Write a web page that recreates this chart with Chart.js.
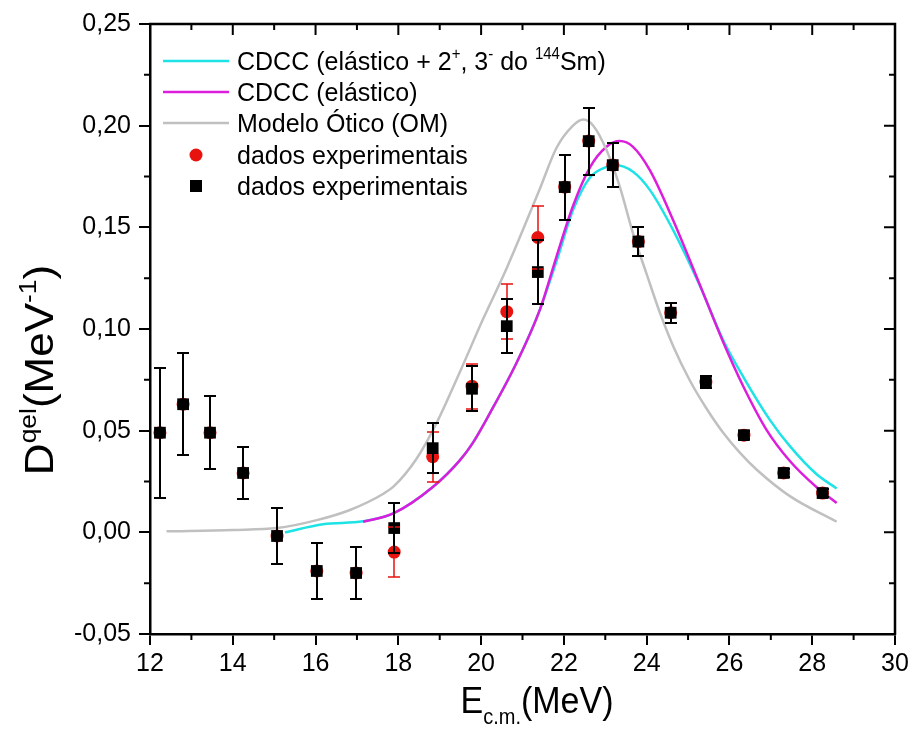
<!DOCTYPE html>
<html>
<head>
<meta charset="utf-8">
<script src="https://cdn.jsdelivr.net/npm/chart.js@4.4.1/dist/chart.umd.min.js"></script>
<style>
    html, body { margin: 0; padding: 0; background: #fff; }
    #wrap { width: 914px; height: 729px; position: relative; }
</style>
</head>
<body>
<div id="wrap"><canvas id="chart"></canvas></div>
<script>
const FONT = '"Liberation Sans", Arial, sans-serif';

// experimental points, E c.m. (MeV)
const expEnergy = [12.24, 12.80, 13.45, 14.25, 15.07, 16.03, 16.98, 17.90, 18.83, 19.78, 20.62, 21.37, 22.02, 22.60, 23.18, 23.80, 24.58, 25.43, 26.35, 27.31, 28.25];
const blackValues = [0.0490, 0.0630, 0.0490, 0.0292, -0.0018, -0.0190, -0.0200, 0.0021, 0.0414, 0.0706, 0.1014, 0.1280, 0.1698, 0.1924, 0.1806, 0.1430, 0.1080, 0.0739, 0.0478, 0.0292, 0.0193];
const blackErrors = [0.0320, 0.0250, 0.0180, 0.0127, 0.0137, 0.0140, 0.0130, 0.0125, 0.0123, 0.0110, 0.0133, 0.0158, 0.0160, 0.0165, 0.0110, 0.0070, 0.0050, 0.0030, 0.0020, 0.0020, 0.0020];
const redValues = [0.0490, 0.0630, 0.0490, 0.0292, -0.0018, -0.0190, -0.0200, -0.0097, 0.0372, 0.0719, 0.1085, 0.1450, 0.1698, 0.1924, 0.1806, 0.1430, 0.1080, 0.0739, 0.0478, 0.0292, 0.0193];
const redErrors = [0.0320, 0.0250, 0.0180, 0.0127, 0.0137, 0.0140, 0.0130, 0.0125, 0.0123, 0.0110, 0.0135, 0.0155, 0.0160, 0.0165, 0.0110, 0.0070, 0.0050, 0.0030, 0.0020, 0.0020, 0.0020];

// CDCC (elastico + 2+, 3- do 144Sm)
const cdccFullE = [15.26, 16.18, 17.15, 17.88, 18.84, 19.49, 19.80, 20.21, 20.86, 21.42, 21.84, 22.22, 22.63, 23.03, 23.23, 23.67, 24.08, 24.64, 25.28, 25.85, 26.33, 26.98, 27.46, 28.10, 28.59];
const cdccFullV = [0.0000, 0.0040, 0.0054, 0.0093, 0.0224, 0.0355, 0.0440, 0.0585, 0.0835, 0.1095, 0.1345, 0.1585, 0.1745, 0.1797, 0.1806, 0.1773, 0.1683, 0.1486, 0.1215, 0.0945, 0.0766, 0.0552, 0.0424, 0.0287, 0.0216];

// CDCC (elastico)
const cdccElE = [17.15, 17.88, 18.84, 19.49, 19.80, 20.21, 20.86, 21.42, 21.82, 22.22, 22.63, 23.03, 23.35, 23.67, 24.08, 24.64, 25.28, 25.85, 26.33, 26.90, 27.46, 28.10, 28.59];
const cdccElV = [0.0052, 0.0093, 0.0224, 0.0355, 0.0440, 0.0585, 0.0835, 0.1095, 0.1355, 0.1605, 0.1795, 0.1896, 0.1924, 0.1896, 0.1780, 0.1535, 0.1220, 0.0935, 0.0720, 0.0503, 0.0351, 0.0223, 0.0144];

// Modelo Otico (OM)
const omE = [12.40, 14.00, 15.07, 16.03, 16.83, 17.64, 17.90, 18.44, 18.92, 19.49, 20.05, 20.62, 21.42, 21.82, 22.22, 22.47, 22.71, 23.03, 23.35, 23.67, 24.00, 24.32, 24.65, 25.04, 25.43, 25.84, 26.25, 26.66, 27.46, 28.59];
const omV = [0.0005, 0.0012, 0.0021, 0.0060, 0.0110, 0.0190, 0.0228, 0.0362, 0.0536, 0.0790, 0.1050, 0.1300, 0.1690, 0.1890, 0.2000, 0.2030, 0.2000, 0.1880, 0.1700, 0.1470, 0.1270, 0.1080, 0.0912, 0.0748, 0.0614, 0.0492, 0.0392, 0.0308, 0.0178, 0.0052];

const xTickValues = [12, 14, 16, 18, 20, 22, 24, 26, 28, 30];
const xTickLabels = ['12', '14', '16', '18', '20', '22', '24', '26', '28', '30'];
const xMinorTicks = [13, 15, 17, 19, 21, 23, 25, 27, 29];
const yTickValues = [-0.05, 0, 0.05, 0.10, 0.15, 0.20, 0.25];
const yTickLabels = ['-0,05', '0,00', '0,05', '0,10', '0,15', '0,20', '0,25'];
const yMinorTicks = [-0.025, 0.025, 0.075, 0.125, 0.175, 0.225];

const xTitle = 'E_{c.m.}(MeV)';
const yTitle = 'D^{qel}(MeV^{-1})';

const toPoints = (xs, ys) => xs.map((x, i) => ({ x, y: ys[i] }));

// text with ^{..} and _{..} runs
function parseRich(str) {
    const runs = [];
    const re = /([\^_])\{([^}]*)\}/g;
    let last = 0, m;
    while ((m = re.exec(str))) {
        if (m.index > last) runs.push({ text: str.slice(last, m.index), mode: 'n' });
        runs.push({ text: m[2], mode: m[1] === '^' ? 'sup' : 'sub' });
        last = re.lastIndex;
    }
    if (last < str.length) runs.push({ text: str.slice(last), mode: 'n' });
    return runs;
}

function drawRich(ctx, str, x, y, size, small, align) {
    const runs = parseRich(str);
    const fontFor = r => (r.mode === 'n' ? size : small) + 'px ' + FONT;
    let total = 0;
    runs.forEach(r => { ctx.font = fontFor(r); r.w = ctx.measureText(r.text).width; total += r.w; });
    let cx = align === 'center' ? x - total / 2 : x;
    ctx.textAlign = 'left';
    ctx.textBaseline = 'alphabetic';
    runs.forEach(r => {
        ctx.font = fontFor(r);
        let dy = 0;
        if (r.mode === 'sup') dy = -size * 0.42;
        if (r.mode === 'sub') dy = size * 0.3;
        ctx.fillText(r.text, cx, y + dy);
        cx += r.w;
    });
}

const errorBarPlugin = {
    id: 'errorBars',
    afterDatasetsDraw(chart) {
        const { ctx } = chart;
        const xs = chart.scales.x, ys = chart.scales.y;
        ctx.save();
        chart.data.datasets.forEach(ds => {
            if (!ds.errors) return;
            ctx.strokeStyle = ds.errorColor;
            ctx.lineWidth = ds.errorWidth;
            ds.data.forEach((p, j) => {
                const px = Math.round(xs.getPixelForValue(p.x));
                const top = Math.round(ys.getPixelForValue(p.y + ds.errors[j]));
                const bot = Math.round(ys.getPixelForValue(p.y - ds.errors[j]));
                ctx.beginPath();
                ctx.moveTo(px, top); ctx.lineTo(px, bot);
                ctx.moveTo(px - 6, top); ctx.lineTo(px + 6, top);
                ctx.moveTo(px - 6, bot); ctx.lineTo(px + 6, bot);
                ctx.stroke();
            });
        });
        ctx.restore();
    }
};

const framePlugin = {
    id: 'frame',
    afterDraw(chart) {
        const { ctx, chartArea: a } = chart;
        const xs = chart.scales.x, ys = chart.scales.y;
        ctx.save();
        ctx.strokeStyle = '#000';
        ctx.lineWidth = 2;
        ctx.beginPath();
        xTickValues.forEach(v => {
            const px = xs.getPixelForValue(v);
            ctx.moveTo(px, a.top); ctx.lineTo(px, a.top + 11);
        });
        xMinorTicks.forEach(v => {
            const px = xs.getPixelForValue(v);
            ctx.moveTo(px, a.bottom); ctx.lineTo(px, a.bottom + 6);
            ctx.moveTo(px, a.top); ctx.lineTo(px, a.top + 6);
        });
        yTickValues.forEach(v => {
            const py = ys.getPixelForValue(v);
            ctx.moveTo(a.right, py); ctx.lineTo(a.right - 11, py);
        });
        yMinorTicks.forEach(v => {
            const py = ys.getPixelForValue(v);
            ctx.moveTo(a.left, py); ctx.lineTo(a.left - 6, py);
            ctx.moveTo(a.right, py); ctx.lineTo(a.right - 6, py);
        });
        ctx.stroke();

        ctx.lineWidth = 2.5;
        ctx.beginPath();
        ctx.moveTo(a.left - 1, a.top); ctx.lineTo(a.right, a.top); ctx.lineTo(a.right, a.bottom + 1);
        ctx.stroke();

        // axis titles (source image is slightly stretched vertically)
        ctx.fillStyle = '#000';
        ctx.save();
        ctx.translate(537, 713);
        ctx.scale(1, 1.1);
        drawRich(ctx, xTitle, 0, 0, 34, 20, 'center');
        ctx.restore();
        ctx.save();
        ctx.translate(53, 370);
        ctx.rotate(-Math.PI / 2);
        ctx.scale(1.1, 1);
        drawRich(ctx, yTitle, 0, 0, 40, 24, 'center');
        ctx.restore();

        // legend
        const rowY = [61, 92, 123, 155, 186];
        chart.data.datasets.forEach((ds, i) => {
            const y = rowY[i];
            if (ds.showLine) {
                ctx.strokeStyle = ds.borderColor;
                ctx.lineWidth = 2.5;
                ctx.beginPath();
                ctx.moveTo(163, y); ctx.lineTo(229, y);
                ctx.stroke();
            } else {
                ctx.fillStyle = ds.backgroundColor;
                if (ds.pointStyle === 'rect') {
                    ctx.fillRect(190, y - 6, 12, 12);
                } else {
                    ctx.beginPath();
                    ctx.arc(196, y, 6.5, 0, Math.PI * 2);
                    ctx.fill();
                }
            }
            ctx.fillStyle = '#000';
            ctx.save();
            ctx.translate(237, y + 9);
            ctx.scale(1, 1.05);
            drawRich(ctx, ds.label, 0, 0, 25, 15, 'left');
            ctx.restore();
        });
        ctx.restore();
    }
};

new Chart(document.getElementById('chart'), {
    type: 'scatter',
    data: {
        datasets: [
            {
                label: 'CDCC (elástico + 2^{+}, 3^{-} do ^{144}Sm)',
                data: toPoints(cdccFullE, cdccFullV),
                showLine: true,
                borderColor: '#1ee3e6',
                borderWidth: 2.5,
                pointRadius: 0,
                cubicInterpolationMode: 'monotone',
                order: 4
            },
            {
                label: 'CDCC (elástico)',
                data: toPoints(cdccElE, cdccElV),
                showLine: true,
                borderColor: '#dc1edc',
                borderWidth: 2.5,
                pointRadius: 0,
                cubicInterpolationMode: 'monotone',
                order: 3
            },
            {
                label: 'Modelo Ótico (OM)',
                data: toPoints(omE, omV),
                showLine: true,
                borderColor: '#c0c0c0',
                borderWidth: 2.5,
                pointRadius: 0,
                cubicInterpolationMode: 'monotone',
                order: 2
            },
            {
                label: 'dados experimentais',
                data: toPoints(expEnergy, redValues),
                errors: redErrors,
                errorColor: '#e8130f',
                errorWidth: 1.5,
                pointStyle: 'circle',
                pointRadius: 6.5,
                backgroundColor: '#e8130f',
                borderWidth: 0,
                order: 1
            },
            {
                label: 'dados experimentais',
                data: toPoints(expEnergy, blackValues),
                errors: blackErrors,
                errorColor: '#000',
                errorWidth: 2,
                pointStyle: 'rect',
                pointRadius: 8.3,
                backgroundColor: '#000',
                borderWidth: 0,
                order: 0
            }
        ]
    },
    options: {
        responsive: true,
        maintainAspectRatio: false,
        animation: false,
        events: [],
        layout: { padding: { top: 24, right: 19, left: 0, bottom: 0 } },
        plugins: { legend: { display: false }, tooltip: { enabled: false } },
        scales: {
            x: {
                type: 'linear',
                min: 12,
                max: 30,
                afterFit: s => { s.height = 95; },
                afterBuildTicks: s => { s.ticks = xTickValues.map(v => ({ value: v })); },
                ticks: {
                    callback: (v, i) => xTickLabels[i],
                    color: '#000',
                    font: { family: FONT, size: 25 },
                    padding: 4,
                    maxRotation: 0
                },
                grid: { drawOnChartArea: false, tickLength: 11, color: '#000', lineWidth: 2 },
                border: { color: '#000', width: 2.5 }
            },
            y: {
                type: 'linear',
                min: -0.05,
                max: 0.25,
                afterFit: s => { s.width = 150; },
                afterBuildTicks: s => { s.ticks = yTickValues.map(v => ({ value: v })); },
                ticks: {
                    callback: (v, i) => yTickLabels[i],
                    color: '#000',
                    font: { family: FONT, size: 25 },
                    padding: 8
                },
                grid: { drawOnChartArea: false, tickLength: 11, color: '#000', lineWidth: 2 },
                border: { color: '#000', width: 2.5 }
            }
        }
    },
    plugins: [errorBarPlugin, framePlugin]
});
</script>
</body>
</html>
